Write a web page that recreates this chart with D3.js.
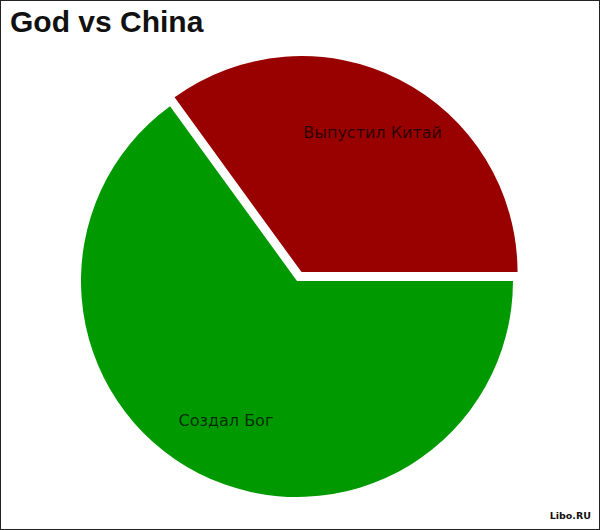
<!DOCTYPE html>
<html><head><meta charset="utf-8">
<script src="https://cdn.jsdelivr.net/npm/d3@7"></script>
<style>html,body{margin:0;padding:0;background:#fff;}svg{display:block;}</style>
</head><body>
<script>
const title = "God vs China";
const categories = ["Выпустил Китай", "Создал Бог"];
const values = [35, 65];
const colors = ["#990000", "#009900"];
const watermark = "Libo.RU";

const W = 600, H = 530;
const cx = 297, cy = 281, R = 216, explode = 10;

const svg = d3.select("body").append("svg").attr("width", W).attr("height", H);
svg.append("rect").attr("x", 0.5).attr("y", 0.5).attr("width", W - 1).attr("height", H - 1)
  .attr("fill", "#fff").attr("stroke", "#222").attr("stroke-width", 1);

svg.append("text").attr("x", 10).attr("y", 32)
  .attr("font-family", "Liberation Sans, Arial, sans-serif").attr("font-weight", "bold")
  .attr("font-size", 30).attr("fill", "#111").text(title);

const data = categories.map((c, i) => ({ name: c, value: values[i], color: colors[i], explode: i === 0 }));
const start = -0.2 * Math.PI;
const pie = d3.pie().sort(null).value(d => d.value).startAngle(start).endAngle(start + 2 * Math.PI);
const arc = d3.arc().innerRadius(0).outerRadius(R);
const labelArc = d3.arc().innerRadius(R * 0.725).outerRadius(R * 0.725);

const g = svg.append("g").attr("transform", `translate(${cx},${cy})`);
const slices = g.selectAll("g.slice").data(pie(data)).join("g").attr("class", "slice")
  .attr("transform", d => {
    if (!d.data.explode) return null;
    const a = (d.startAngle + d.endAngle) / 2;
    return `translate(${explode * Math.sin(a)},${-explode * Math.cos(a)})`;
  });
slices.append("path").attr("d", arc).attr("fill", d => d.data.color);
slices.append("text")
  .attr("transform", d => `translate(${labelArc.centroid(d)})`)
  .attr("text-anchor", "middle").attr("dy", "0.35em")
  .attr("font-family", "DejaVu Sans, sans-serif").attr("font-size", 16)
  .attr("fill", "#000").attr("fill-opacity", 0.72)
  .text(d => d.data.name);

svg.append("text").attr("x", 591).attr("y", 519).attr("text-anchor", "end")
  .attr("font-family", "DejaVu Sans, sans-serif").attr("font-weight", "bold")
  .attr("font-size", 9.5).attr("fill", "#111").text(watermark);
</script>
</body></html>
